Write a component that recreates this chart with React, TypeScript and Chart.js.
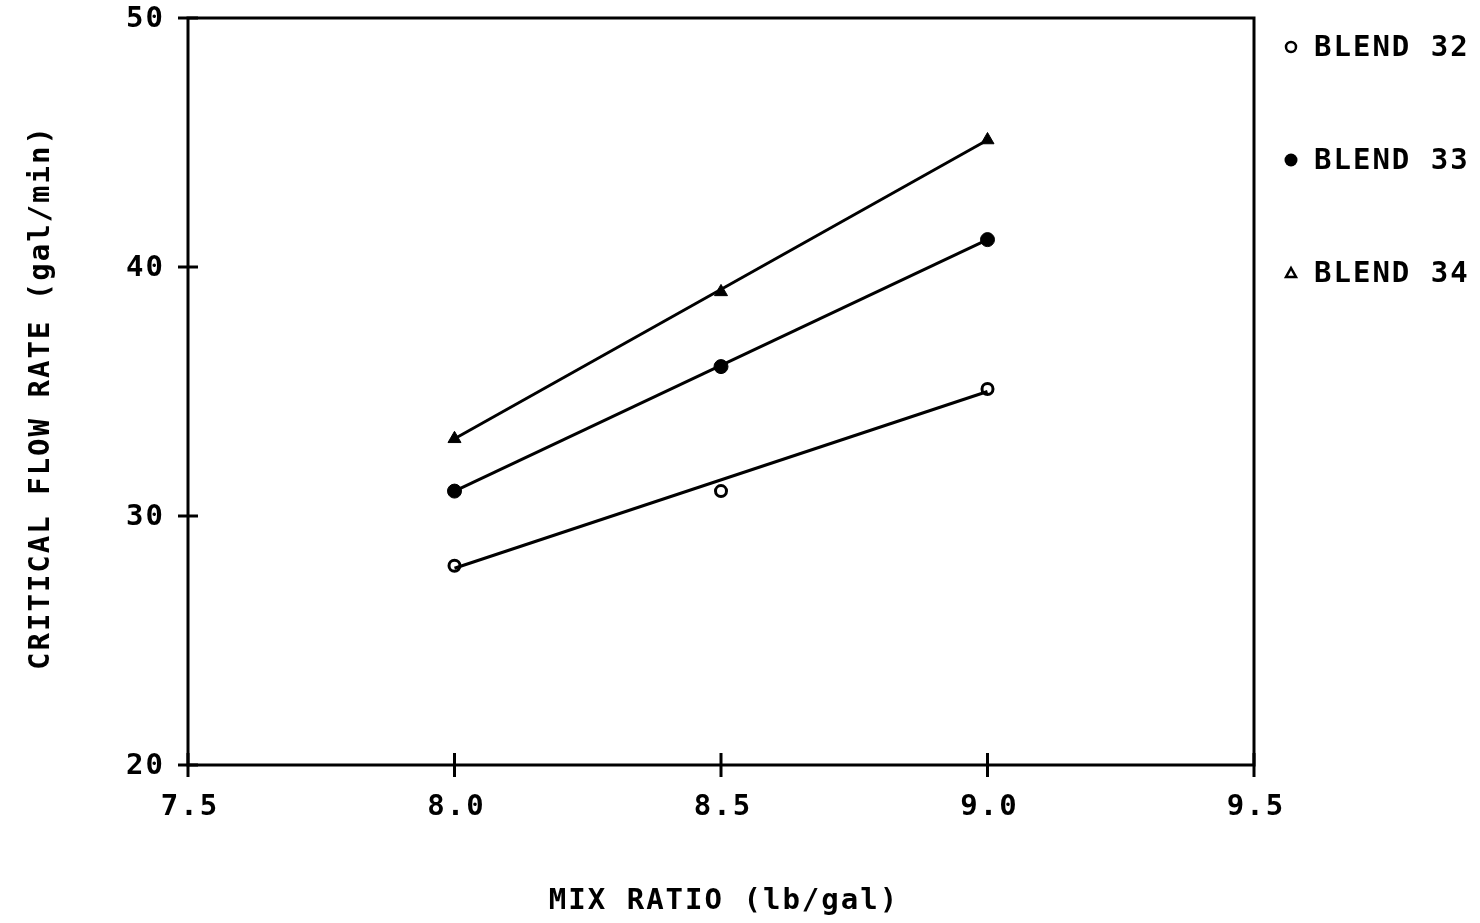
import React, { useEffect, useRef } from "react";
import { Chart, registerables } from "chart.js";
Chart.register(...registerables);

const mixRatio = [8.0, 8.5, 9.0];
const blend32 = [28.0, 31.0, 35.1];
const blend33 = [31.0, 36.0, 41.1];
const blend34 = [33.1, 39.0, 45.1];
const fitX = [8.0, 9.0];
const blend32Fit = [27.9, 35.0];
const blend33Fit = [31.0, 41.1];
const blend34Fit = [33.1, 45.1];
const xTicks = [7.5, 8.0, 8.5, 9.0, 9.5];
const yTicks = [20, 30, 40, 50];
const seriesNames = ["BLEND 32", "BLEND 33", "BLEND 34"];
const xTitle = "MIX RATIO (lb/gal)";
const yTitle = "CRITICAL FLOW RATE (gal/min)";

const FONT = "bold 29px 'DejaVu Sans Mono', monospace";
const INK = "#000";

function drawText(ctx: CanvasRenderingContext2D, text: string, x: number, y: number, align: CanvasTextAlign) {
  ctx.font = FONT;
  (ctx as any).letterSpacing = "2px";
  ctx.textAlign = align;
  ctx.textBaseline = "middle";
  ctx.fillStyle = INK;
  ctx.fillText(text, x, y);
}

const framePlugin = {
  id: "frame",
  afterDraw(chart: any) {
    const ctx: CanvasRenderingContext2D = chart.ctx;
    const xs = chart.scales.x;
    const ys = chart.scales.y;
    const { left, right, top, bottom } = chart.chartArea;
    ctx.save();
    ctx.strokeStyle = INK;
    ctx.lineWidth = 3;
    ctx.lineCap = "butt";
    // frame
    ctx.beginPath();
    ctx.moveTo(left, top);
    ctx.lineTo(right, top);
    ctx.lineTo(right, bottom);
    ctx.lineTo(left, bottom);
    ctx.closePath();
    ctx.stroke();
    // y ticks (crossing the left axis)
    yTicks.forEach((v) => {
      const py = ys.getPixelForValue(v);
      ctx.beginPath();
      ctx.moveTo(left - 10, py);
      ctx.lineTo(left + 10, py);
      ctx.stroke();
      drawText(ctx, String(v), left - 23, py + 1, "right");
    });
    // x ticks (crossing the bottom axis)
    xTicks.forEach((v) => {
      const px = xs.getPixelForValue(v);
      ctx.beginPath();
      ctx.moveTo(px, bottom - 12);
      ctx.lineTo(px, bottom + 12);
      ctx.stroke();
      drawText(ctx, v.toFixed(1), px + 2, bottom + 42, "center");
    });
    // axis titles
    drawText(ctx, xTitle, (left + right) / 2 + 3, 901, "center");
    ctx.save();
    ctx.translate(41, (top + bottom) / 2 + 6);
    ctx.rotate(-Math.PI / 2);
    drawText(ctx, yTitle, 0, 0, "center");
    ctx.restore();

    // legend
    const lx = 1291;
    const tx = 1314;
    const rows = [47, 160, 273];
    ctx.lineWidth = 2.5;
    ctx.beginPath();
    ctx.arc(lx, rows[0], 5, 0, Math.PI * 2);
    ctx.fillStyle = "#fff";
    ctx.fill();
    ctx.stroke();
    ctx.beginPath();
    ctx.arc(lx, rows[1], 6.5, 0, Math.PI * 2);
    ctx.fillStyle = INK;
    ctx.fill();
    ctx.beginPath();
    ctx.moveTo(lx, rows[2] - 5);
    ctx.lineTo(lx + 5, rows[2] + 4);
    ctx.lineTo(lx - 5, rows[2] + 4);
    ctx.closePath();
    ctx.lineWidth = 2.5;
    ctx.stroke();
    seriesNames.forEach((name, i) => drawText(ctx, name, tx, rows[i] + 1, "left"));
    ctx.restore();
  },
};

function pts(xsArr: number[], ysArr: number[]) {
  return xsArr.map((x, i) => ({ x, y: ysArr[i] }));
}

export default function App() {
  const ref = useRef<HTMLCanvasElement | null>(null);
  useEffect(() => {
    if (!ref.current) return;
    const lineStyle = {
      type: "line" as const,
      borderColor: INK,
      borderWidth: 3,
      pointRadius: 0,
      showLine: true,
      fill: false,
      tension: 0,
    };
    const chart = new Chart(ref.current, {
      type: "scatter",
      data: {
        datasets: [
          { ...lineStyle, label: "fit32", data: pts(fitX, blend32Fit) },
          { ...lineStyle, label: "fit33", data: pts(fitX, blend33Fit) },
          { ...lineStyle, label: "fit34", data: pts(fitX, blend34Fit) },
          {
            label: seriesNames[0],
            data: pts(mixRatio, blend32),
            pointStyle: "circle",
            pointRadius: 5.5,
            backgroundColor: "#fff",
            borderColor: INK,
            borderWidth: 3,
          },
          {
            label: seriesNames[1],
            data: pts(mixRatio, blend33),
            pointStyle: "circle",
            pointRadius: 7,
            backgroundColor: INK,
            borderColor: INK,
            borderWidth: 1,
          },
          {
            label: seriesNames[2],
            data: pts(mixRatio, blend34),
            pointStyle: "triangle",
            pointRadius: 7.5,
            backgroundColor: INK,
            borderColor: INK,
            borderWidth: 1,
          },
        ] as any,
      },
      options: {
        responsive: false,
        animation: false,
        devicePixelRatio: 1,
        layout: { padding: { left: 0, top: 18, right: 226, bottom: 0 }, autoPadding: false },
        plugins: { legend: { display: false }, tooltip: { enabled: false }, title: { display: false } },
        scales: {
          x: {
            type: "linear",
            min: 7.5,
            max: 9.5,
            ticks: { display: false, stepSize: 0.5 },
            grid: { display: false },
            border: { display: false },
            afterFit: (s: any) => { s.height = 923 - 765; },
          },
          y: {
            type: "linear",
            min: 20,
            max: 50,
            ticks: { display: false, stepSize: 10 },
            grid: { display: false },
            border: { display: false },
            afterFit: (s: any) => { s.width = 188; },
          },
        },
      } as any,
      plugins: [framePlugin],
    });
    return () => chart.destroy();
  }, []);
  return (
    <div style={{ position: "fixed", left: 0, top: 0, width: 1480, height: 923, background: "#fff" }}>
      <canvas ref={ref} width={1480} height={923} style={{ width: 1480, height: 923, display: "block" }} />
    </div>
  );
}
